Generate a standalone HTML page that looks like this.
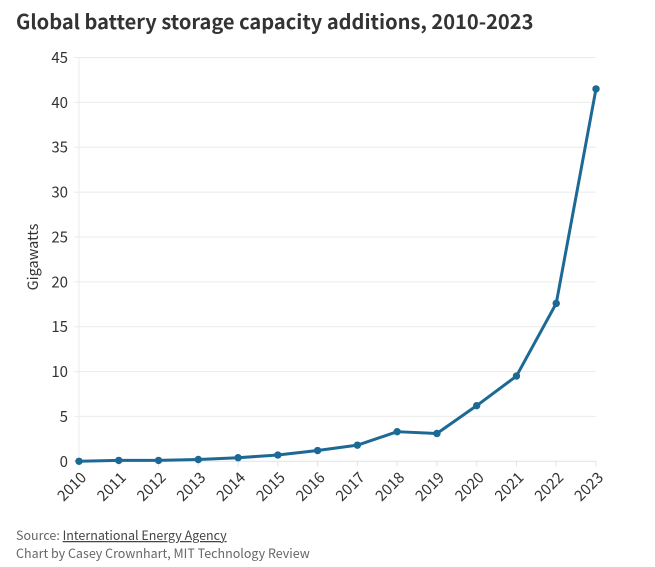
<!DOCTYPE html>
<html>
<head>
<meta charset="utf-8">
<style>
html,body{margin:0;padding:0;background:#fff;width:655px;height:567px;overflow:hidden}
svg{display:block;position:absolute;left:0;top:0}
text{font-family:"Noto Sans CJK SC","Liberation Sans",sans-serif}
</style>
</head>
<body>
<svg id="chart" width="655" height="567" viewBox="0 0 655 567">
<text x="16" y="29" font-size="20.05" font-weight="700" fill="#333">Global battery storage capacity additions, 2010-2023</text>
<text transform="translate(38,257) rotate(-90)" text-anchor="middle" font-size="14.5" fill="#333">Gigawatts</text>
<g id="grid"></g><g id="yticks"></g><g id="xticks"></g><g id="series"></g>
<text x="16" y="540" font-size="12.5" fill="#666">Source: <a><tspan fill="#444" text-decoration="underline">International Energy Agency</tspan></a></text>
<text x="16" y="558" font-size="12.5" fill="#666">Chart by Casey Crownhart, MIT Technology Review</text>
</svg>
<script>
const years = ["2010","2011","2012","2013","2014","2015","2016","2017","2018","2019","2020","2021","2022","2023"];
const gigawatts = [0, 0.1, 0.1, 0.2, 0.4, 0.7, 1.2, 1.8, 3.3, 3.1, 6.2, 9.5, 17.6, 41.5];
const yTickValues = [0, 5, 10, 15, 20, 25, 30, 35, 40, 45];

const NS = 'http://www.w3.org/2000/svg';
const xLeft = 79, xRight = 596, yBottom = 461.3, yTop = 57.5, yMax = 45;
const xScale = i => xLeft + i * (xRight - xLeft) / (years.length - 1);
const yScale = v => yBottom - v * (yBottom - yTop) / yMax;
function make(tag, attrs, parent) {
  const el = document.createElementNS(NS, tag);
  for (const k in attrs) el.setAttribute(k, attrs[k]);
  parent.appendChild(el);
  return el;
}
const grid = document.getElementById('grid');
const yticks = document.getElementById('yticks');
const xticks = document.getElementById('xticks');
const series = document.getElementById('series');

yTickValues.forEach(v => {
  const y = yScale(v);
  const line = make('line', {x1: xLeft - 5, x2: xRight, y1: y, y2: y, stroke: v === 0 ? '#e2e2e2' : '#ebebeb', 'stroke-width': 1}, grid);
  
  
  const t = make('text', {x: 68, y: y + 5.5, 'text-anchor': 'end', 'font-size': 15, fill: '#333'}, yticks);
  
  
  t.textContent = v;
});
const yAxisLine = make('line', {x1: xLeft, x2: xLeft, y1: yTop, y2: yBottom, stroke: '#ebebeb', 'stroke-width': 1}, grid);



years.forEach((label, i) => {
  const x = xScale(i);
  const tick = make('line', {x1: x, x2: x, y1: yBottom, y2: yBottom + 5, stroke: '#e2e2e2', 'stroke-width': 1}, xticks);
  
  
  const t = make('text', {transform: 'translate(' + (x + 4.5) + ',' + (yBottom + 13.5) + ') rotate(-45)', 'text-anchor': 'end', 'font-size': 15, fill: '#333', dy: '0.35em'}, xticks);
  
  
  t.textContent = label;
});

const path = make('polyline', {
  points: gigawatts.map((v, i) => xScale(i) + ',' + yScale(v)).join(' '),
  fill: 'none', stroke: '#1d6996', 'stroke-width': 3, 'stroke-linejoin': 'round'
}, series);


gigawatts.forEach((v, i) => {
  const c = make('circle', {cx: xScale(i), cy: yScale(v), r: 3.7, fill: '#1d6996'}, series);
  
  
});
</script>
</body>
</html>
